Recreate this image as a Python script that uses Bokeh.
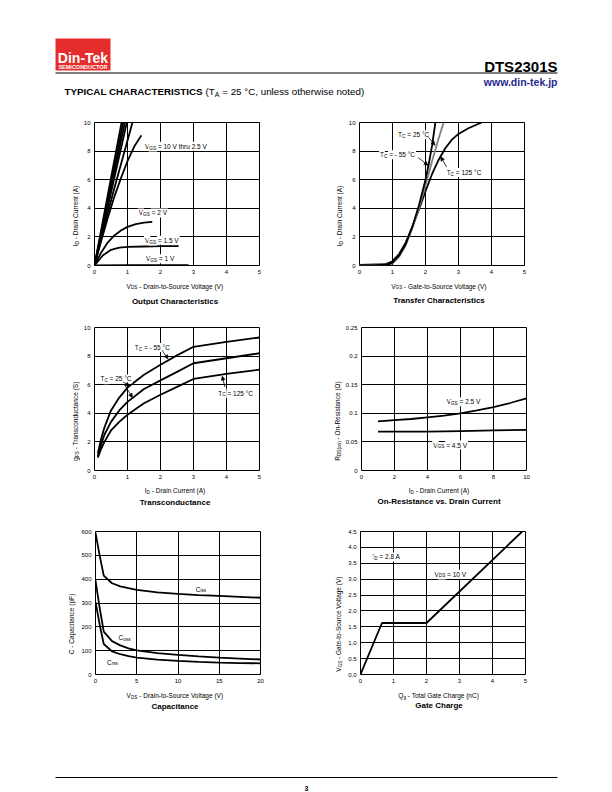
import math
from bokeh.plotting import figure
from bokeh.layouts import column, row
from bokeh.models import Label, Arrow, NormalHead, FixedTicker, NumeralTickFormatter, Range1d
from bokeh.embed import file_html
from bokeh.resources import INLINE

# ---------------- data ----------------
# Output characteristics (VDS in V, ID in A)
out_vds_10 = [0, 0.40, 0.82]
out_id_10 = [0, 4.9, 10]
out_vds_45 = [0, 0.43, 0.87]
out_id_45 = [0, 4.9, 10]
out_vds_4 = [0, 0.45, 0.92]
out_id_4 = [0, 4.9, 10]
out_vds_35 = [0, 0.48, 0.98]
out_id_35 = [0, 4.9, 10]
out_vds_3 = [0, 0.3, 0.6, 0.9, 1.15]
out_id_3 = [0, 2.8, 5.4, 7.9, 10]
out_vds_25 = [0, 0.2, 0.4, 0.6, 0.8, 1.0, 1.2, 1.42]
out_id_25 = [0, 1.7, 3.3, 4.8, 6.1, 7.3, 8.3, 9.1]
out_vds_2 = [0, 0.2, 0.4, 0.6, 0.8, 1.0, 1.25, 1.5, 1.75]
out_id_2 = [0, 0.9, 1.6, 2.1, 2.45, 2.7, 2.9, 3.0, 3.05]
out_vds_15 = [0, 0.25, 0.5, 0.75, 1.0, 1.5, 2.0, 2.55]
out_id_15 = [0, 0.7, 1.1, 1.25, 1.3, 1.33, 1.35, 1.36]
out_vds_1 = [0, 1.0, 2.0, 2.85]
out_id_1 = [0, 0.02, 0.03, 0.03]

# Transfer characteristics (VGS in V, ID in A)
tr_vgs_m55 = [0, 0.5, 0.9, 1.0, 1.2, 1.4, 1.6, 1.8, 2.0, 2.1, 2.2, 2.3]
tr_id_m55 = [0.02, 0.02, 0.1, 0.2, 0.7, 1.5, 2.7, 4.2, 6.0, 7.1, 8.4, 10]
tr_vgs_25 = [0, 0.9, 1.0, 1.2, 1.4, 1.6, 1.8, 2.0, 2.2, 2.4, 2.55]
tr_id_25 = [0.03, 0.08, 0.15, 0.6, 1.4, 2.6, 4.0, 5.6, 7.3, 8.9, 10]
tr_vgs_125 = [0, 0.8, 1.0, 1.2, 1.4, 1.6, 1.8, 2.0, 2.2, 2.4, 2.6, 2.8, 3.0, 3.3, 3.7]
tr_id_125 = [0.05, 0.1, 0.3, 0.8, 1.6, 2.7, 3.9, 5.2, 6.4, 7.4, 8.2, 8.8, 9.2, 9.6, 10]

# Transconductance (ID in A, gFS in S)
gfs_id = [0.1, 0.2, 0.3, 0.5, 0.75, 1.0, 1.5, 2.0, 2.5, 3.0, 4.0, 5.0]
gfs_m55 = [1.2, 2.2, 3.0, 4.2, 5.1, 5.8, 6.7, 7.4, 8.05, 8.65, 9.0, 9.3]
gfs_25 = [1.0, 1.8, 2.5, 3.4, 4.2, 4.8, 5.7, 6.3, 6.9, 7.5, 7.85, 8.2]
gfs_125 = [0.9, 1.5, 2.0, 2.8, 3.4, 3.9, 4.7, 5.3, 5.85, 6.4, 6.75, 7.05]

# On-resistance (ID in A, RDS(on) in ohm)
ron_id_25 = [1, 2, 3, 4, 5, 6, 7, 8, 9, 10]
ron_25 = [0.086, 0.088, 0.090, 0.093, 0.096, 0.100, 0.105, 0.111, 0.118, 0.126]
ron_id_45 = [1, 2, 4, 6, 8, 10]
ron_45 = [0.068, 0.068, 0.068, 0.069, 0.070, 0.071]

# Capacitance (VDS in V, C in pF)
cap_vds = [0, 0.5, 1, 2, 3, 4, 5, 7.5, 10, 12.5, 15, 17.5, 20]
cap_ciss = [595, 500, 415, 383, 370, 362, 355, 345, 338, 333, 330, 326, 322]
cap_coss = [395, 280, 180, 140, 122, 110, 101, 90, 82, 76, 71, 67, 63]
cap_crss = [305, 210, 128, 97, 85, 77, 71, 62, 57, 53, 50, 48, 47]

# Gate charge (Qg in nC, VGS in V)
gc_qg = [0, 0.65, 2.0, 4.9]
gc_vgs = [0, 1.62, 1.62, 4.5]

# tick values
ticks_0_5 = [0, 1, 2, 3, 4, 5]
ticks_0_10_by2 = [0, 2, 4, 6, 8, 10]
ticks_ron = [0, 0.05, 0.1, 0.15, 0.2, 0.25]
ticks_cap_x = [0, 5, 10, 15, 20]
ticks_cap_y = [0, 100, 200, 300, 400, 500, 600]
ticks_gc_y = [0, 0.5, 1.0, 1.5, 2.0, 2.5, 3.0, 3.5, 4.0, 4.5]

# ---------------- styling helpers ----------------
FONT = "Liberation Sans"
FW, FH = 165, 143
PAGE_W = 600

REG = {' ': 278, '!': 278, '(': 333, ')': 333, ',': 278, '-': 333, '.': 278, '/': 278, ':': 278,
       '=': 584, '°': 400, 'Ω': 768}
for ch in "0123456789":
    REG[ch] = 556
REG.update(dict(zip("ABCDEFGHIJKLMNOPQRSTUVWXYZ",
                    [667, 667, 722, 722, 667, 611, 778, 722, 278, 500, 667, 556, 833, 722, 778, 667,
                     778, 722, 667, 611, 722, 667, 944, 667, 667, 611])))
REG.update(dict(zip("abcdefghijklmnopqrstuvwxyz",
                    [556, 556, 500, 556, 556, 278, 556, 556, 222, 222, 500, 222, 833, 556, 556, 556,
                     556, 333, 500, 278, 556, 500, 722, 500, 500, 500])))
BOLD = dict(REG)
BOLD.update(dict(zip("ABCDEFGHIJKLMNOPQRSTUVWXYZ",
                     [722, 722, 722, 722, 667, 611, 778, 722, 278, 556, 722, 611, 833, 722, 778, 667,
                      778, 722, 667, 611, 722, 667, 944, 667, 667, 611])))
BOLD.update(dict(zip("abcdefghijklmnopqrstuvwxyz",
                     [556, 611, 556, 611, 556, 333, 611, 611, 278, 278, 556, 278, 889, 611, 611, 611,
                      611, 389, 556, 333, 611, 556, 778, 556, 556, 500])))
BOLD[':'] = 333


def tw(s, size, bold=False):
    t = BOLD if bold else REG
    return sum(t.get(c, 556) for c in s) / 1000.0 * size


def rich(p, x, y, segs, size=6.5, align="left", vertical=False, color="black", bg=None, xo=0.0, yo=0.0):
    """segs: list of (text, is_sub, is_bold); offsets are in screen pixels"""
    sub_scale = 0.72
    widths = []
    for t, sub, b in segs:
        widths.append(tw(t, size * sub_scale if sub else size, b))
    total = sum(widths)
    cum = {"left": 0.0, "center": -total / 2.0, "right": -total}[align]
    for (t, sub, b), w in zip(segs, widths):
        fs = size * sub_scale if sub else size
        lead = len(t) - len(t.lstrip(" "))
        pre = tw(" " * lead, fs, b)
        txt = t.strip(" ")
        shift = -size * 0.28 if sub else 0.0
        if vertical:
            dx, dy = xo - shift, yo + cum + pre
        else:
            dx, dy = xo + cum + pre, yo + shift
        kw = dict(x=x, y=y, x_offset=dx, y_offset=dy, text=txt, angle=(math.pi / 2 if vertical else 0.0),
                  text_font=FONT, text_font_size="%.2fpx" % fs, text_font_style=("bold" if b else "normal"),
                  text_color=color, text_align="left", text_baseline="alphabetic")
        if bg:
            kw.update(background_fill_color=bg, padding=1)
        p.add_layout(Label(**kw))
        cum += w


def S(*parts):
    """segments from alternating normal / subscript strings"""
    out = []
    for i, s in enumerate(parts):
        if s:
            out.append((s, i % 2 == 1, False))
    return out


def chart(xr, yr, xticks, yticks, left, right, top, yfmt=None):
    p = figure(frame_width=FW, frame_height=FH, x_range=Range1d(*xr), y_range=Range1d(*yr),
               output_backend="svg", toolbar_location=None,
               min_border_left=left, min_border_right=right, min_border_top=top, min_border_bottom=14)
    p.xaxis.ticker = FixedTicker(ticks=xticks)
    p.yaxis.ticker = FixedTicker(ticks=yticks)
    if yfmt:
        p.yaxis.formatter = NumeralTickFormatter(format=yfmt)
    for ax in p.axis:
        ax.axis_line_color = None
        ax.major_tick_line_color = None
        ax.minor_tick_line_color = None
        ax.major_tick_out = 0
        ax.major_tick_in = 0
        ax.major_label_text_font = FONT
        ax.major_label_text_font_size = "6px"
        ax.major_label_text_color = "black"
        ax.major_label_standoff = 4
    p.grid.grid_line_color = "black"
    p.grid.grid_line_width = 1
    p.outline_line_color = "black"
    p.outline_line_width = 1
    p.background_fill_color = "white"
    p.border_fill_color = "white"
    return p


def blank(x0, x1, y0, y1):
    """plain text panel whose data coordinates are page pixels"""
    f = figure(frame_width=int(x1 - x0), frame_height=int(y1 - y0), x_range=Range1d(x0, x1),
               y_range=Range1d(y1, y0), output_backend="svg", toolbar_location=None, min_border=0,
               x_axis_type=None, y_axis_type=None)
    f.grid.visible = False
    f.outline_line_color = None
    f.background_fill_color = "white"
    f.border_fill_color = "white"
    return f


def arrow(p, xs, ys, xe, ye):
    p.add_layout(Arrow(end=NormalHead(size=4, fill_color="black", line_color="black", line_width=0.5),
                       x_start=xs, y_start=ys, x_end=xe, y_end=ye, line_width=0.8, line_color="black"))


def title_lab(p, x, y, text):
    p.add_layout(Label(x=x, y=y, text=text, text_font=FONT, text_font_size="8px", text_font_style="bold",
                       text_align="center", text_baseline="alphabetic", text_color="black"))


LW = 1.8
LAB = 6.5
AX = 6.5
CAPH = -2.3  # baseline offset for vertically centred labels
LCX, RCX = 174.5, 438.5  # frame centres (page x)

# ---------------- 1. Output characteristics ----------------
xr1, yr1 = (0, 5), (0, 10)
p1 = chart(xr1, yr1, ticks_0_5, ticks_0_10_by2, 12, 49, 22)
for xs, ys in [(out_vds_10, out_id_10), (out_vds_45, out_id_45), (out_vds_4, out_id_4),
               (out_vds_35, out_id_35), (out_vds_3, out_id_3), (out_vds_25, out_id_25),
               (out_vds_2, out_id_2), (out_vds_15, out_id_15), (out_vds_1, out_id_1)]:
    p1.line(xs, ys, line_color="black", line_width=LW)
rich(p1, 1.5, 8.5, S("V", "GS", " = 10 V thru 2.5 V"), size=LAB, yo=CAPH, bg="white")
rich(p1, 1.31, 3.84, S("V", "GS", " = 2 V"), size=LAB, yo=CAPH, bg="white")
rich(p1, 1.5, 1.93, S("V", "GS", " = 1.5 V"), size=LAB, yo=CAPH, bg="white")
rich(p1, 1.53, 0.63, S("V", "GS", " = 1 V"), size=LAB, yo=CAPH, bg="white")

# ---------------- 2. Transfer characteristics ----------------
xr2, yr2 = (0, 5), (0, 10)
p2 = chart(xr2, yr2, ticks_0_5, ticks_0_10_by2, 13, 79, 22)
p2.line(tr_vgs_125, tr_id_125, line_color="black", line_width=LW)
p2.line(tr_vgs_25, tr_id_25, line_color="#808080", line_width=LW)
p2.line(tr_vgs_m55, tr_id_m55, line_color="black", line_width=LW)
rich(p2, 1.14, 9.3, S("T", "C", " = 25 °C"), size=LAB, yo=CAPH, bg="white")
rich(p2, 0.59, 7.9, S("T", "C", " = - 55 °C"), size=LAB, yo=CAPH, bg="white")
rich(p2, 2.61, 6.66, S("T", "C", " = 125 °C"), size=LAB, yo=CAPH, bg="white")
arrow(p2, 2.1, 8.95, 2.29, 8.4)
arrow(p2, 1.78, 7.55, 2.08, 7.0)
arrow(p2, 2.64, 6.9, 2.46, 7.6)

# ---------------- 3. Transconductance ----------------
xr3, yr3 = (0, 5), (0, 10)
p3 = chart(xr3, yr3, ticks_0_5, ticks_0_10_by2, 12, 49, 22)
for ys in (gfs_m55, gfs_25, gfs_125):
    p3.line(gfs_id, ys, line_color="black", line_width=LW)
rich(p3, 1.19, 8.77, S("T", "C", " = - 55 °C"), size=LAB, yo=CAPH, bg="white")
rich(p3, 0.15, 6.56, S("T", "C", " = 25 °C"), size=LAB, yo=CAPH, bg="white")
rich(p3, 3.72, 5.58, S("T", "C", " = 125 °C"), size=LAB, yo=CAPH, bg="white")
arrow(p3, 2.05, 8.4, 2.23, 7.8)
arrow(p3, 0.87, 6.2, 1.06, 5.9)
arrow(p3, 0.9, 6.05, 1.15, 5.1)
arrow(p3, 3.95, 5.85, 3.87, 6.6)

# ---------------- 4. On-resistance ----------------
xr4, yr4 = (0, 10), (0, 0.25)
p4 = chart(xr4, yr4, ticks_0_10_by2, ticks_ron, 16, 79, 22, yfmt="0.[00]")
p4.line(ron_id_25, ron_25, line_color="black", line_width=LW)
p4.line(ron_id_45, ron_45, line_color="black", line_width=LW)
rich(p4, 5.1, 0.1244, S("V", "GS", " = 2.5 V"), size=LAB, yo=CAPH, bg="white")
rich(p4, 4.29, 0.0485, S("V", "GS", " = 4.5 V"), size=LAB, yo=CAPH, bg="white")

# ---------------- 5. Capacitance ----------------
xr5, yr5 = (0, 20), (0, 600)
p5 = chart(xr5, yr5, ticks_cap_x, ticks_cap_y, 14, 49, 21)
for ys in (cap_ciss, cap_coss, cap_crss):
    p5.line(cap_vds, ys, line_color="black", line_width=LW)
rich(p5, 12.15, 368, S("C", "iss"), size=LAB, yo=CAPH)
rich(p5, 2.8, 163, S("C", "oss"), size=LAB, yo=CAPH)
rich(p5, 1.4, 62, S("C", "rss"), size=LAB, yo=CAPH)

# ---------------- 6. Gate charge ----------------
xr6, yr6 = (0, 5), (0, 4.5)
p6 = chart(xr6, yr6, ticks_0_5, ticks_gc_y, 14, 79, 21, yfmt="0.0")
p6.line(gc_qg, gc_vgs, line_color="black", line_width=LW)
rich(p6, 0.33, 3.77, S("I", "D", " = 2.8 A"), size=LAB, yo=CAPH, bg="white")
rich(p6, 2.21, 3.23, S("V", "DS", " = 10 V"), size=LAB, yo=CAPH, bg="white")

# ---------------- y-axis label panels ----------------
yl1 = blank(0, 80, 100, 279)
rich(yl1, 75.0, 193.5, S("I", "D", " - Drain Current (A)"), size=AX, align="center", vertical=True)
yl2 = blank(306, 343, 100, 279)
rich(yl2, 337.0, 193.5, S("I", "D", " - Drain Current (A)"), size=AX, align="center", vertical=True)
yl3 = blank(0, 80, 305, 484)
rich(yl3, 75.0, 398.5, S("g", "FS", " - Transconductance (S)"), size=AX, align="center", vertical=True)
yl4 = blank(306, 340, 305, 484)
rich(yl4, 334.8, 398.5, S("R", "DS(on)", " - On-Resistance (Ω)"), size=AX, align="center", vertical=True)
yl5 = blank(0, 78, 510, 688)
rich(yl5, 70.6, 602.5, S("C - Capacitance (pF)"), size=AX, align="center", vertical=True)
yl6 = blank(306, 342, 510, 688)
rich(yl6, 335.0, 602.5, S("V", "GS", " - Gate-to-Source Voltage (V)"), size=AX, align="center", vertical=True)

# ---------------- x-axis label / title strips ----------------
st1 = blank(0, PAGE_W, 279, 305)
rich(st1, LCX, 285.6, S("V", "DS", " - Drain-to-Source Voltage (V)"), size=AX, align="center")
title_lab(st1, LCX, 301.2, "Output Characteristics")
rich(st1, RCX, 285.6, S("V", "GS", " - Gate-to-Source Voltage (V)"), size=AX, align="center")
title_lab(st1, RCX, 299.6, "Transfer Characteristics")

st2 = blank(0, PAGE_W, 484, 510)
rich(st2, LCX, 490.0, S("I", "D", " - Drain Current (A)"), size=AX, align="center")
title_lab(st2, LCX, 501.9, "Transconductance")
rich(st2, RCX, 490.0, S("I", "D", " - Drain Current (A)"), size=AX, align="center")
title_lab(st2, RCX, 500.6, "On-Resistance vs. Drain Current")

st3 = blank(0, PAGE_W, 688, 715)
rich(st3, LCX, 695.0, S("V", "DS", " - Drain-to-Source Voltage (V)"), size=AX, align="center")
title_lab(st3, LCX, 705.6, "Capacitance")
rich(st3, RCX, 695.0, S("Q", "g", " - Total Gate Charge (nC)"), size=AX, align="center")
title_lab(st3, RCX, 704.6, "Gate Charge")

# ---------------- header ----------------
hdr = blank(0, PAGE_W, 0, 100)
hdr.quad(left=55, right=110, top=38, bottom=70, fill_color="#e52d2d", line_color=None)
hdr.add_layout(Label(x=82.5, y=57, text="Din-Tek", text_font=FONT, text_font_size="14px", text_font_style="bold",
                     text_color="white", text_align="center", text_baseline="alphabetic"))
hdr.add_layout(Label(x=82.5, y=66, text="SEMICONDUCTOR", text_font=FONT, text_font_size="5.5px",
                     text_font_style="bold", text_color="white", text_align="center", text_baseline="alphabetic"))
hdr.line([55, 557], [72.5, 72.5], line_color="black", line_width=1.2)
hdr.add_layout(Label(x=557, y=65.5, text="DTS2301S", text_font=FONT, text_font_size="15px", text_font_style="bold",
                     text_color="black", text_align="right", text_baseline="alphabetic"))
hdr.add_layout(Label(x=557, y=81.5, text="www.din-tek.jp", text_font=FONT, text_font_size="10.5px",
                     text_font_style="bold", text_color="#1f2a8c", text_align="right", text_baseline="alphabetic"))
rich(hdr, 64, 91, [("TYPICAL CHARACTERISTICS", False, True), (" (T", False, False), ("A", True, False),
                   (" = 25 °C, unless otherwise noted)", False, False)], size=9.8)

# ---------------- footer ----------------
ftr = blank(0, PAGE_W, 715, 791)
ftr.line([55, 557], [777, 777], line_color="black", line_width=1)
ftr.add_layout(Label(x=306, y=788, text="3", text_font=FONT, text_font_size="7px", text_font_style="bold",
                     text_color="black", text_align="center", text_baseline="alphabetic"))

page = column(hdr, row(yl1, p1, yl2, p2), st1, row(yl3, p3, yl4, p4), st2, row(yl5, p5, yl6, p6), st3, ftr)
open("out.html", "w").write(file_html(page, INLINE))
